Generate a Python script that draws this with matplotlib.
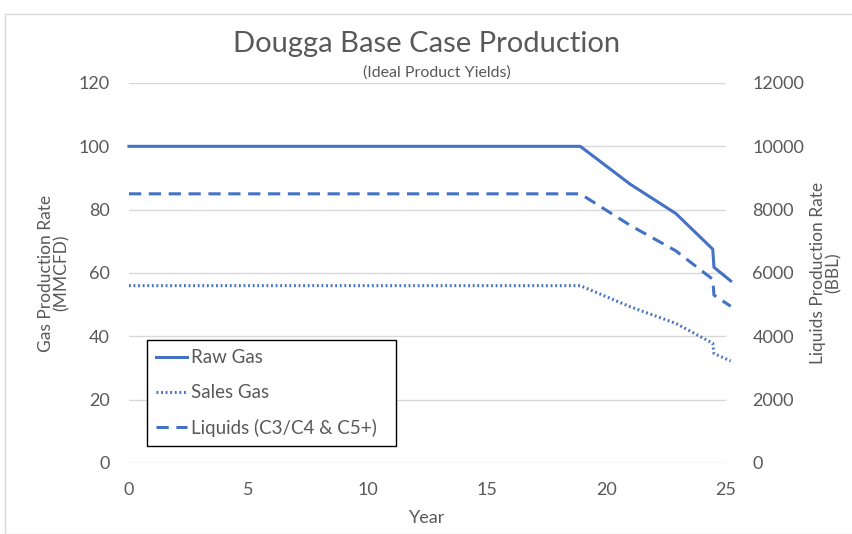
import matplotlib.pyplot as plt
from matplotlib.patches import Rectangle

# dados
anos = [0, 18.9, 21.0, 22.9, 24.45, 24.5, 25.2]
raw_gas = [100, 100, 88, 78.8, 67.5, 61.8, 57.5]
sales_gas = [56, 56, 49.3, 44.1, 37.8, 34.6, 32.2]
liquidos = [8500, 8500, 7500, 6700, 5800, 5300, 4950]

yticks_gas = [0, 20, 40, 60, 80, 100, 120]
yticks_liq = [0, 2000, 4000, 6000, 8000, 10000, 12000]
xticks = [0, 5, 10, 15, 20, 25]

azul = '#4472C4'
cinza = '#595959'

plt.rcParams['font.family'] = ['Lato', 'DejaVu Sans']

fig = plt.figure(figsize=(8.53, 5.34), dpi=100)
ax = fig.add_axes([0.1512, 0.133, 0.6998, 0.7116])

# moldura clara do grafico
fig.patches.append(Rectangle((5 / 853, 0), 2, 1 - 14 / 534, transform=fig.transFigure,
                             fill=False, edgecolor='#d9d9d9', linewidth=1))

l1, = ax.plot(anos, raw_gas, color=azul, lw=2.2, label='Raw Gas', clip_on=False)
l2, = ax.plot(anos, sales_gas, color=azul, lw=2.2, ls=(0, (0.6, 0.9)),
              label='Sales Gas', clip_on=False)

ax2 = ax.twinx()
l3, = ax2.plot(anos, liquidos, color=azul, lw=2.2, ls=(0, (4, 2.5)),
               label='Liquids (C3/C4 & C5+)', clip_on=False)

ax.set_xlim(0, 25)
ax.set_ylim(0, 120)
ax2.set_ylim(0, 12000)
ax.set_xticks(xticks)
ax.set_yticks(yticks_gas)
ax2.set_yticks(yticks_liq)
ax.grid(axis='y', color='#d9d9d9', lw=1)
ax.set_axisbelow(True)

for a in (ax, ax2):
    for s in a.spines.values():
        s.set_visible(False)
    a.tick_params(length=0, labelsize=13, labelcolor=cinza)
ax.tick_params(axis='y', pad=14)
ax.tick_params(axis='x', pad=14)
ax2.tick_params(axis='y', pad=19)

ax.set_xlabel('Year', fontsize=13, color=cinza, labelpad=8)
ax.set_ylabel('Gas Production Rate\n(MMCFD)', fontsize=12.5, color=cinza,
              labelpad=6, linespacing=1.0)
ax2.set_ylabel('Liquids Production Rate\n(BBL)', fontsize=12.5, color=cinza,
               labelpad=4, linespacing=1.0)

fig.text(0.5, 0.918, 'Dougga Base Case Production', ha='center', va='center',
         fontsize=21, color=cinza)
fig.text(437 / 853, 1 - 73 / 534, '(Ideal Product Yields)', ha='center', va='center',
         fontsize=11.5, color=cinza)

# legenda com caixa da mesma largura da referencia
x0 = (147 - 129) / 597
y1 = (463 - 340) / 380
leg = ax.legend(handles=[l1, l2, l3], loc='upper left', mode='expand',
                bbox_to_anchor=(x0, y1 - 0.3, 249 / 597, 0.3),
                fontsize=13.5, handlelength=1.65, handletextpad=0.2,
                labelspacing=0.95, borderpad=0.5, borderaxespad=0,
                fancybox=False, edgecolor='black', framealpha=1)
leg.get_frame().set_linewidth(1)
for t in leg.get_texts():
    t.set_color(cinza)

fig.savefig('out.png', dpi=100)
